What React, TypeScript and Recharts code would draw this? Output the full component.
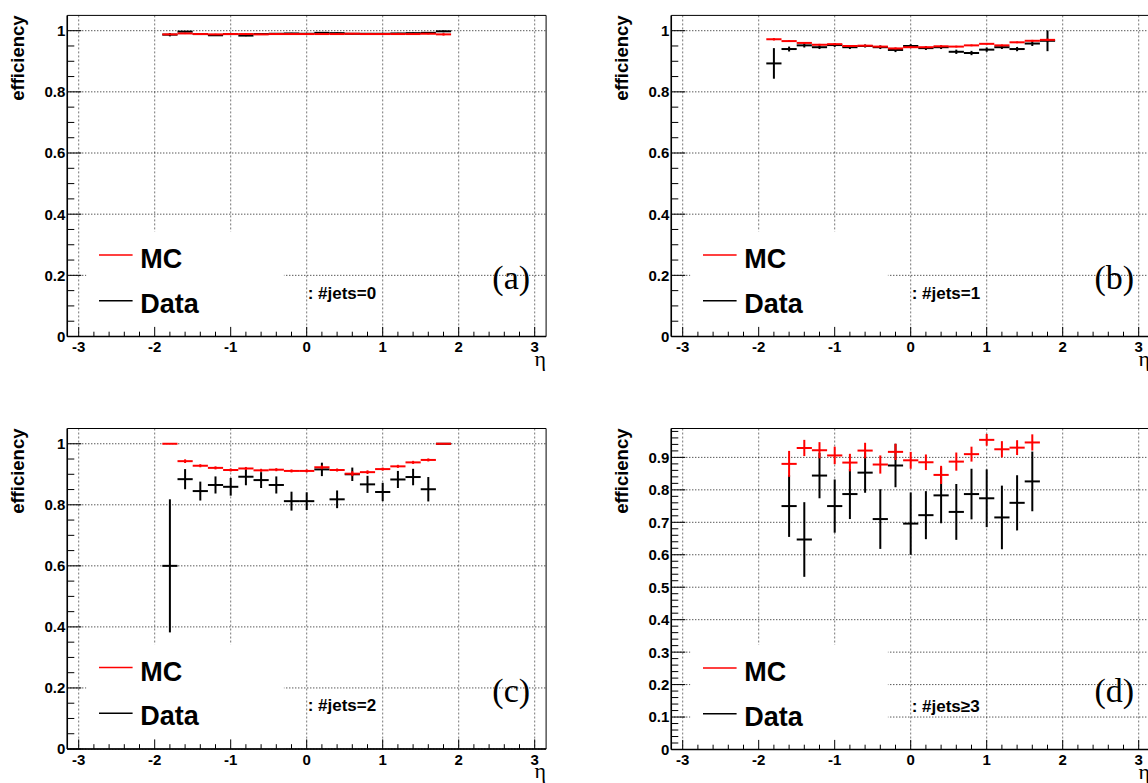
import { CartesianGrid, ErrorBar, ReferenceArea, Scatter, ScatterChart, XAxis, YAxis } from "recharts";

// eta bin centres (bin width 0.2)
const etaBins = [-1.8, -1.6, -1.4, -1.2, -1.0, -0.8, -0.6, -0.4, -0.2, 0.0, 0.2, 0.4, 0.6, 0.8, 1.0, 1.2, 1.4, 1.6, 1.8];
const etaBinsD = [-1.6, -1.4, -1.2, -1.0, -0.8, -0.6, -0.4, -0.2, 0.0, 0.2, 0.4, 0.6, 0.8, 1.0, 1.2, 1.4, 1.6];
const binHalfWidth = 0.1;

// (a) #jets=0
const mcEffA = [0.988, 0.991, 0.989, 0.988, 0.989, 0.989, 0.988, 0.989, 0.989, 0.989, 0.989, 0.989, 0.99, 0.989, 0.989, 0.989, 0.989, 0.99, 0.988];
const mcErrA = [0.002, 0.002, 0.002, 0.002, 0.002, 0.002, 0.002, 0.002, 0.002, 0.002, 0.002, 0.002, 0.002, 0.002, 0.002, 0.002, 0.002, 0.002, 0.004];
const dataEffA = [0.987, 0.997, 0.989, 0.985, 0.989, 0.984, 0.989, 0.99, 0.991, 0.99, 0.993, 0.992, 0.99, 0.99, 0.99, 0.991, 0.992, 0.993, 0.998];
const dataErrA = [0.0055, 0.002, 0.002, 0.002, 0.002, 0.002, 0.002, 0.002, 0.002, 0.002, 0.002, 0.002, 0.002, 0.002, 0.002, 0.002, 0.002, 0.002, 0.003];

// (b) #jets=1
const mcEffB = [0.972, 0.966, 0.96, 0.954, 0.956, 0.95, 0.951, 0.948, 0.942, 0.946, 0.946, 0.949, 0.948, 0.952, 0.957, 0.952, 0.962, 0.967, 0.97];
const mcErrB = [0.004, 0.003, 0.003, 0.003, 0.003, 0.003, 0.003, 0.003, 0.003, 0.003, 0.003, 0.003, 0.003, 0.003, 0.003, 0.003, 0.003, 0.003, 0.004];
const dataEffB = [0.893, 0.94, 0.952, 0.946, 0.953, 0.946, 0.95, 0.946, 0.937, 0.95, 0.943, 0.946, 0.931, 0.927, 0.938, 0.946, 0.94, 0.958, 0.967];
const dataErrB = [0.05, 0.008, 0.007, 0.006, 0.006, 0.006, 0.005, 0.006, 0.007, 0.006, 0.006, 0.006, 0.007, 0.007, 0.007, 0.006, 0.007, 0.008, 0.034];

// (c) #jets=2
const mcEffC = [1.0, 0.943, 0.928, 0.921, 0.914, 0.919, 0.913, 0.915, 0.911, 0.911, 0.923, 0.914, 0.902, 0.907, 0.917, 0.926, 0.939, 0.947, 1.0];
const mcErrC = [0, 0.006, 0.005, 0.005, 0.005, 0.005, 0.005, 0.005, 0.005, 0.005, 0.006, 0.005, 0.008, 0.006, 0.005, 0.005, 0.005, 0.005, 0];
const dataEffC = [0.6, 0.884, 0.845, 0.865, 0.859, 0.892, 0.881, 0.865, 0.812, 0.812, 0.916, 0.818, 0.9, 0.867, 0.842, 0.883, 0.891, 0.851, 1.0];
const dataErrC = [0.218, 0.033, 0.031, 0.028, 0.029, 0.028, 0.026, 0.028, 0.031, 0.029, 0.022, 0.029, 0.022, 0.028, 0.03, 0.028, 0.027, 0.04, 0];

// (d) #jets>=3
const mcEffD = [0.88, 0.929, 0.922, 0.906, 0.884, 0.921, 0.878, 0.917, 0.891, 0.885, 0.846, 0.887, 0.91, 0.954, 0.925, 0.93, 0.946];
const mcErrD = [0.04, 0.025, 0.025, 0.027, 0.027, 0.024, 0.028, 0.025, 0.026, 0.024, 0.028, 0.028, 0.023, 0.018, 0.025, 0.023, 0.025];
const dataEffD = [0.75, 0.647, 0.844, 0.75, 0.787, 0.853, 0.71, 0.875, 0.696, 0.722, 0.783, 0.732, 0.787, 0.774, 0.715, 0.76, 0.826];
const dataErrD = [0.095, 0.115, 0.07, 0.082, 0.077, 0.062, 0.092, 0.067, 0.096, 0.074, 0.086, 0.086, 0.078, 0.089, 0.098, 0.085, 0.092];

// axis ticks
const xMajorTicks = [-3, -2, -1, 0, 1, 2, 3];
const xMinorTicks = [-3, -2.8, -2.6, -2.4, -2.2, -2, -1.8, -1.6, -1.4, -1.2, -1, -0.8, -0.6, -0.4, -0.2, 0, 0.2, 0.4, 0.6, 0.8, 1, 1.2, 1.4, 1.6, 1.8, 2, 2.2, 2.4, 2.6, 2.8, 3];
const yMajorTicks = [0, 0.2, 0.4, 0.6, 0.8, 1];
const yMinorTicks = [0, 0.05, 0.1, 0.15, 0.2, 0.25, 0.3, 0.35, 0.4, 0.45, 0.5, 0.55, 0.6, 0.65, 0.7, 0.75, 0.8, 0.85, 0.9, 0.95, 1];
const yMajorTicksD = [0, 0.1, 0.2, 0.3, 0.4, 0.5, 0.6, 0.7, 0.8, 0.9];
const yMinorTicksD = [
	0, 0.02, 0.04, 0.06, 0.08, 0.1, 0.12, 0.14, 0.16, 0.18, 0.2, 0.22, 0.24, 0.26, 0.28, 0.3, 0.32, 0.34, 0.36, 0.38, 0.4, 0.42, 0.44, 0.46, 0.48,
	0.5, 0.52, 0.54, 0.56, 0.58, 0.6, 0.62, 0.64, 0.66, 0.68, 0.7, 0.72, 0.74, 0.76, 0.78, 0.8, 0.82, 0.84, 0.86, 0.88, 0.9, 0.92, 0.94, 0.96, 0.98,
];

const SANS = "'Liberation Sans', Arial, Helvetica, sans-serif";
const SERIF = "'Liberation Serif', 'Times New Roman', serif";
const PANEL_W = 604;
const PLOT_LEFT = 67.3;
const PLOT_W = 478.8;
const X_DOMAIN: [number, number] = [-3.15, 3.15];

type Pt = { x: number; y: number; ex: number; ey: number };

function toPoints(eta: number[], eff: number[], err: number[]): Pt[] {
	return eta.map((x, i) => ({ x, y: eff[i], ex: binHalfWidth, ey: err[i] }));
}

const isIn = (list: number[], v: number) => list.some((m) => Math.abs(m - v) < 1e-6);

const noMarker = () => <g />;

function XTick(props: any) {
	const { x, y, payload } = props;
	const v = Number(payload.value);
	const major = isIn(xMajorTicks, v);
	return (
		<g>
			<line x1={x} x2={x} y1={y} y2={y - (major ? 9.6 : 4.8)} stroke="#000" strokeWidth={1} />
			{major && (
				<text x={x} y={y + 15.5} textAnchor="middle" fontFamily={SANS} fontWeight="bold" fontSize={15} fill="#000">
					{String(v)}
				</text>
			)}
		</g>
	);
}

function YTick(props: any) {
	const { x, y, payload, majors } = props;
	const v = Number(payload.value);
	const major = isIn(majors, v);
	return (
		<g>
			<line x1={x} x2={x + (major ? 14 : 7)} y1={y} y2={y} stroke="#000" strokeWidth={1} />
			{major && (
				<text x={x - 2} y={y + 5.4} textAnchor="end" fontFamily={SANS} fontWeight="bold" fontSize={15} fill="#000">
					{String(v)}
				</text>
			)}
		</g>
	);
}

type PanelProps = {
	left: number;
	top: number;
	height: number;
	plotTop: number;
	plotBottom: number;
	yMax: number;
	yMajor: number[];
	yMinor: number[];
	eta: number[];
	mcEff: number[];
	mcErr: number[];
	dataEff: number[];
	dataErr: number[];
	jets: string;
	tag: string;
	boxTop: number;
};

function Panel(p: PanelProps) {
	const mcPts = toPoints(p.eta, p.mcEff, p.mcErr);
	const dataPts = toPoints(p.eta, p.dataEff, p.dataErr);
	const plotRight = PLOT_LEFT + PLOT_W;
	return (
		<div style={{ position: "absolute", left: p.left, top: p.top, width: PANEL_W, height: p.height }}>
			<ScatterChart
				width={PANEL_W}
				height={p.height}
				margin={{ top: p.plotTop, right: PANEL_W - plotRight, bottom: 0, left: 0 }}
			>
				<CartesianGrid horizontal={false} verticalValues={xMajorTicks} stroke="#777" strokeDasharray="2 2" />
				<CartesianGrid vertical={false} horizontalValues={p.yMajor} stroke="#111" strokeDasharray="1 2" />
				<ReferenceArea x1={-2.9} x2={-0.3} y1={0} y2={p.boxTop} fill="#fff" fillOpacity={1} stroke="none" />
				<XAxis
					type="number"
					dataKey="x"
					domain={X_DOMAIN}
					allowDataOverflow
					ticks={xMinorTicks}
					interval={0}
					tickSize={0}
					tickMargin={0}
					tickLine={false}
					tick={(t: any) => <XTick {...t} />}
					height={p.height - p.plotBottom}
					axisLine={{ stroke: "#000", strokeWidth: 1.5 }}
				/>
				<YAxis
					type="number"
					dataKey="y"
					domain={[0, p.yMax]}
					allowDataOverflow
					ticks={p.yMinor}
					interval={0}
					tickSize={0}
					tickMargin={0}
					tickLine={false}
					tick={(t: any) => <YTick {...t} majors={p.yMajor} />}
					width={PLOT_LEFT}
					axisLine={{ stroke: "#000", strokeWidth: 1.5 }}
				/>
				<Scatter name="Data" data={dataPts} shape={noMarker} fill="#000" isAnimationActive={false}>
					<ErrorBar dataKey="ex" direction="x" width={0} stroke="#000" strokeWidth={2} isAnimationActive={false} />
					<ErrorBar dataKey="ey" direction="y" width={0} stroke="#000" strokeWidth={2} isAnimationActive={false} />
				</Scatter>
				<Scatter name="MC" data={mcPts} shape={noMarker} fill="#f00" isAnimationActive={false}>
					<ErrorBar dataKey="ex" direction="x" width={0} stroke="#f00" strokeWidth={2} isAnimationActive={false} />
					<ErrorBar dataKey="ey" direction="y" width={0} stroke="#f00" strokeWidth={2} isAnimationActive={false} />
				</Scatter>
				<ReferenceArea x1={X_DOMAIN[0]} x2={X_DOMAIN[1]} y1={0} y2={p.yMax} fill="none" stroke="#000" strokeWidth={1} />
			</ScatterChart>
			<svg
				width={PANEL_W}
				height={p.height}
				style={{ position: "absolute", left: 0, top: 0, pointerEvents: "none", overflow: "visible" }}
			>
				<text
					x={PLOT_LEFT - 43}
					y={p.plotTop}
					transform={`rotate(-90 ${PLOT_LEFT - 43} ${p.plotTop})`}
					textAnchor="end"
					fontFamily={SANS}
					fontWeight="bold"
					fontSize={18.5}
				>
					efficiency
				</text>
				<line x1={PLOT_LEFT + 31.7} x2={PLOT_LEFT + 65.3} y1={p.plotBottom - 81.5} y2={p.plotBottom - 81.5} stroke="#f00" strokeWidth={1.5} />
				<text x={PLOT_LEFT + 73} y={p.plotBottom - 68.5} fontFamily={SANS} fontWeight="bold" fontSize={27}>
					MC
				</text>
				<line x1={PLOT_LEFT + 31.7} x2={PLOT_LEFT + 65.3} y1={p.plotBottom - 35.8} y2={p.plotBottom - 35.8} stroke="#000" strokeWidth={1.5} />
				<text x={PLOT_LEFT + 73} y={p.plotBottom - 23.8} fontFamily={SANS} fontWeight="bold" fontSize={27}>
					Data
				</text>
				<text x={PLOT_LEFT + 240.4} y={p.plotBottom - 38} fontFamily={SANS} fontWeight="bold" fontSize={17}>
					{p.jets}
				</text>
				<text x={plotRight - 16} y={p.plotBottom - 47.5} textAnchor="end" fontFamily={SERIF} fontSize={34}>
					{p.tag}
				</text>
				<text x={plotRight} y={p.plotBottom + 29} textAnchor="end" fontFamily={SERIF} fontSize={22}>
					η
				</text>
			</svg>
		</div>
	);
}

export default function App() {
	return (
		<div
			style={{
				position: "absolute",
				left: 0,
				top: 0,
				width: 1148,
				height: 783,
				overflow: "hidden",
				background: "#fff",
			}}
		>
			<Panel
				left={0}
				top={0}
				height={400}
				plotTop={15.4}
				plotBottom={336.5}
				yMax={1.05}
				yMajor={yMajorTicks}
				yMinor={yMinorTicks}
				eta={etaBins}
				mcEff={mcEffA}
				mcErr={mcErrA}
				dataEff={dataEffA}
				dataErr={dataErrA}
				jets=": #jets=0"
				tag="(a)"
				boxTop={0.343}
			/>
			<Panel
				left={604}
				top={0}
				height={400}
				plotTop={15.4}
				plotBottom={336.5}
				yMax={1.05}
				yMajor={yMajorTicks}
				yMinor={yMinorTicks}
				eta={etaBins}
				mcEff={mcEffB}
				mcErr={mcErrB}
				dataEff={dataEffB}
				dataErr={dataErrB}
				jets=": #jets=1"
				tag="(b)"
				boxTop={0.343}
			/>
			<Panel
				left={0}
				top={400}
				height={383}
				plotTop={28.5}
				plotBottom={349}
				yMax={1.05}
				yMajor={yMajorTicks}
				yMinor={yMinorTicks}
				eta={etaBins}
				mcEff={mcEffC}
				mcErr={mcErrC}
				dataEff={dataEffC}
				dataErr={dataErrC}
				jets=": #jets=2"
				tag="(c)"
				boxTop={0.343}
			/>
			<Panel
				left={604}
				top={400}
				height={383}
				plotTop={28.5}
				plotBottom={349.5}
				yMax={0.989}
				yMajor={yMajorTicksD}
				yMinor={yMinorTicksD}
				eta={etaBinsD}
				mcEff={mcEffD}
				mcErr={mcErrD}
				dataEff={dataEffD}
				dataErr={dataErrD}
				jets=": #jets≥3"
				tag="(d)"
				boxTop={0.323}
			/>
		</div>
	);
}
